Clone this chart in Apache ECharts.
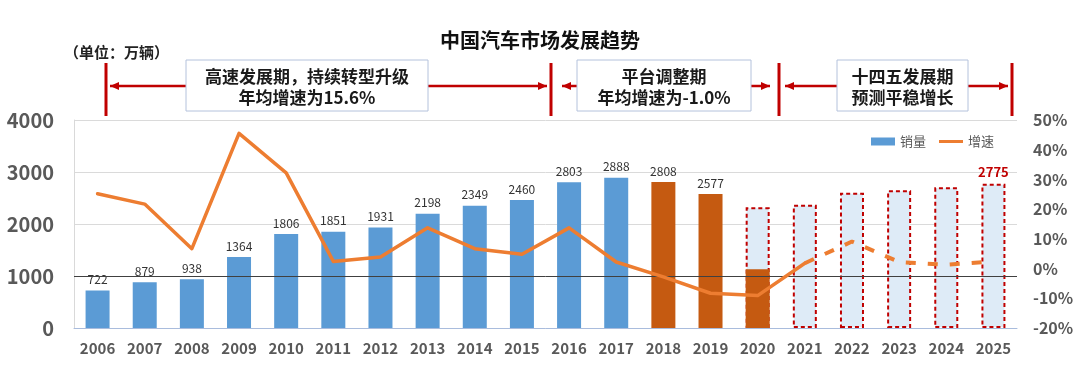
<!DOCTYPE html>
<html>
<head>
<meta charset="utf-8">
<script src="https://cdn.jsdelivr.net/npm/echarts@6/dist/echarts.min.js"></script>
<style>
html,body{margin:0;padding:0;background:#fff;}
#chart{width:1080px;height:371px;}
</style>
</head>
<body>
<div id="chart"></div>
<script>
// ---- data ----
const years = ['2006','2007','2008','2009','2010','2011','2012','2013','2014','2015','2016','2017','2018','2019','2020','2021','2022','2023','2024','2025'];
const sales = [722,879,938,1364,1806,1851,1931,2198,2349,2460,2803,2888,2808,2577,2320,2370,2600,2650,2705,2775];
const sales2020Partial = ['-','-','-','-','-','-','-','-','-','-','-','-','-','-',1130,'-','-','-','-','-'];
const growth = [25.2,21.7,6.7,45.5,32.2,2.4,3.9,13.7,6.7,4.8,13.7,2.2,-2.8,-8.3,-9.1,1.8,9.1,2.2,1.3,2.4];
const leftTicks = {min:0, max:4000, interval:1000};
const rightTicks = {min:-20, max:50, interval:10};
const titleText = '中国汽车市场发展趋势';
const unitText = '（单位：万辆）';
const phases = [
  {line1:'高速发展期，持续转型升级', line2:'年均增速为15.6%'},
  {line1:'平台调整期', line2:'年均增速为-1.0%'},
  {line1:'十四五发展期', line2:'预测平稳增长'}
];

// ---- styles ----
const BLUE = '#5B9BD5', BROWN = '#C55A11', ORANGE = '#ED7D31', RED = '#C00000', LIGHT = '#DEEBF7';
const FONT = '"Noto Sans CJK SC", "Noto Sans", sans-serif';
const firstForecast = years.indexOf('2020');
const adjustStart = years.indexOf('2018');
const dashStart = years.indexOf('2021');

const salesData = sales.map((v, i) => {
  const item = {value: v};
  if (i >= firstForecast) {
    item.itemStyle = {color: LIGHT, borderColor: RED, borderWidth: 2, borderType: [4, 3]};
    if (i === years.length - 1) {
      item.label = {show: true, color: RED, fontWeight: 'bold', fontSize: 13};
    } else {
      item.label = {show: false};
    }
  } else if (i >= adjustStart) {
    item.itemStyle = {color: BROWN};
  }
  return item;
});
const solidGrowth = growth.map((v, i) => i <= dashStart ? v : '-');
const dashGrowth = growth.map((v, i) => i >= dashStart ? v : '-');

// ---- annotation graphics ----
const g = [];
const arrowY = 86;
function vline(x){ g.push({type:'line', shape:{x1:x, y1:63, x2:x, y2:116}, style:{stroke:RED, lineWidth:3}, z:10}); }
function arrow(x1, x2){
  g.push({type:'line', shape:{x1:x1, y1:arrowY, x2:x2, y2:arrowY}, style:{stroke:RED, lineWidth:2.5}, z:10});
  const d = x2 > x1 ? -1 : 1;
  g.push({type:'polygon', shape:{points:[[x2, arrowY],[x2 + d*9, arrowY-4],[x2 + d*9, arrowY+4]]}, style:{fill:RED}, z:10});
}
function box(x, w, t){
  g.push({type:'rect', shape:{x:x, y:60, width:w, height:51}, style:{fill:'#fff', stroke:'#B4C2DC', lineWidth:1}, z:11});
  g.push({type:'text', x:x + w/2, y:77, style:{text:t.line1, font:'bold 17px ' + FONT, fill:'#1a1a1a', align:'center', verticalAlign:'middle'}, z:12});
  g.push({type:'text', x:x + w/2, y:98, style:{text:t.line2, font:'bold 17px ' + FONT, fill:'#1a1a1a', align:'center', verticalAlign:'middle'}, z:12});
}
[106, 551, 779, 1012].forEach(vline);
arrow(186, 110); arrow(428, 547);
arrow(577, 562); arrow(751, 770);
arrow(837, 785); arrow(968, 1008);
box(186, 242, phases[0]);
box(577, 174, phases[1]);
box(837, 131, phases[2]);
g.push({type:'text', x:540, y:40, style:{text:titleText, font:'bold 20px ' + FONT, fill:'#111', align:'center', verticalAlign:'middle'}});
g.push({type:'text', x:64, y:52, style:{text:unitText, font:'bold 15px ' + FONT, fill:'#222', align:'left', verticalAlign:'middle'}});

const chart = echarts.init(document.getElementById('chart'));
chart.setOption({
  animation: false,
  textStyle: {fontFamily: FONT},
  grid: {left: 74, right: 63, top: 120, bottom: 43},
  legend: [
    {
      left: 866, top: 130, itemWidth: 24, itemHeight: 8,
      textStyle: {fontSize: 13, color: '#595959', fontFamily: FONT},
      data: [{name: '销量', icon: 'rect'}]
    },
    {
      left: 934, top: 130, itemWidth: 24, itemHeight: 3,
      textStyle: {fontSize: 13, color: '#595959', fontFamily: FONT},
      data: [{name: '增速', icon: 'rect', itemStyle: {color: ORANGE}}]
    }
  ],
  graphic: g,
  xAxis: {
    type: 'category', data: years,
    axisTick: {show: false},
    axisLine: {lineStyle: {color: '#A9BCDD', width: 1}},
    axisLabel: {fontSize: 15, fontWeight: 'bold', color: '#595959', margin: 13}
  },
  yAxis: [
    {
      type: 'value', min: leftTicks.min, max: leftTicks.max, interval: leftTicks.interval,
      axisLine: {show: true, lineStyle: {color: '#D9D9D9'}},
      axisTick: {show: false},
      axisLabel: {fontSize: 20, fontWeight: 'bold', color: '#595959', margin: 20, formatter: v => String(v)},
      splitLine: {lineStyle: {color: '#DADADA'}}
    },
    {
      type: 'value', min: rightTicks.min, max: rightTicks.max, interval: rightTicks.interval,
      axisLine: {show: false}, axisTick: {show: false},
      axisLabel: {fontSize: 16, fontWeight: 'bold', color: '#595959', margin: 16, formatter: '{value}%'},
      splitLine: {show: false}
    }
  ],
  series: [
    {
      name: '销量', type: 'bar', yAxisIndex: 0, data: salesData,
      barWidth: 24, barGap: '-100%',
      itemStyle: {color: BLUE},
      label: {show: true, position: 'top', distance: 5, fontSize: 12, color: '#333'},
      markLine: {
        silent: true, symbol: 'none', label: {show: false},
        lineStyle: {color: '#404040', width: 1, type: 'solid'},
        data: [{yAxis: 1000}]
      },
      z: 2
    },
    {
      name: '销量2020', type: 'bar', yAxisIndex: 0, data: sales2020Partial,
      barWidth: 24, barGap: '-100%',
      itemStyle: {color: BROWN},
      z: 3
    },
    {
      name: '增速', type: 'line', yAxisIndex: 1, data: solidGrowth,
      symbol: 'none', lineStyle: {color: ORANGE, width: 3.5, cap: 'round', join: 'round'},
      itemStyle: {color: ORANGE}, z: 5
    },
    {
      name: '增速预测', type: 'line', yAxisIndex: 1, data: dashGrowth,
      symbol: 'none', lineStyle: {color: ORANGE, width: 4, type: [10, 12], cap: 'butt'},
      itemStyle: {color: ORANGE}, z: 5
    }
  ]
});
</script>
</body>
</html>
